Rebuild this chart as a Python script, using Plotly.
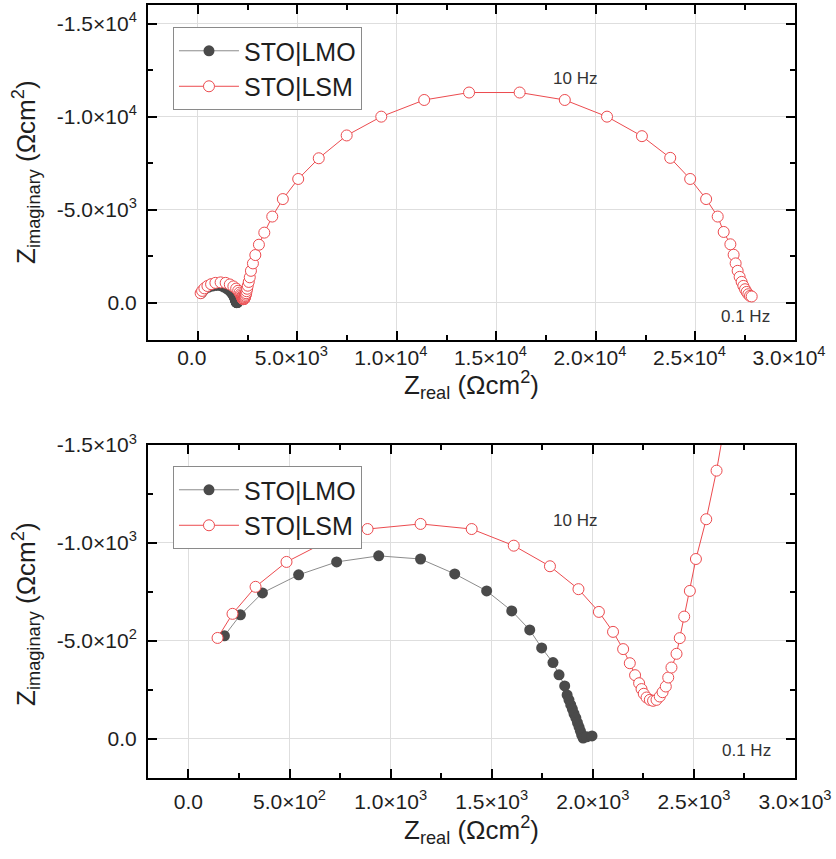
import plotly.graph_objects as go

# Nyquist data (Ohm cm^2): real part and imaginary part (negative values)
lmo_re = [178, 257, 366, 545, 733, 941, 1148, 1317, 1475, 1599, 1688, 1747, 1803, 1833,
          1861, 1873, 1882, 1891, 1899, 1907, 1916, 1924, 1932, 1939, 1945, 1952, 1970, 1996]
lmo_im = [-526, -633, -745, -837, -903, -934, -918, -842, -755, -653, -556, -464, -389, -327,
          -270, -224, -199, -173, -152, -128, -107, -83, -60, -39, -20, -4, -10, -15]

lsm_re = [144, 218, 332, 485, 668, 886, 1148, 1401, 1609, 1788, 1929, 2030, 2100, 2150,
          2183, 2209, 2229, 2241, 2252, 2266, 2282, 2298, 2315, 2331, 2345, 2361, 2373, 2389,
          2414, 2430, 2452, 2480, 2510, 2561, 2612, 2671, 2771, 2891, 3071, 3342, 3742, 4274,
          5045, 6077, 7480, 9218, 11373, 13627, 16168, 18437, 20557, 22311, 23732, 24734,
          25536, 26117, 26418, 26753, 26918, 27018, 27119, 27219, 27319, 27405, 27490, 27570,
          27655, 27740, 27825]
lsm_im = [-515, -638, -776, -903, -1000, -1071, -1097, -1071, -986, -881, -764, -648, -546, -458,
          -386, -325, -284, -254, -230, -211, -199, -194, -199, -216, -238, -267, -313, -364,
          -434, -514, -624, -755, -918, -1121, -1369, -1717, -2117, -2565, -3121, -3769, -4633, -5573,
          -6653, -7765, -8991, -10001, -10897, -11297, -11297, -10897, -10001, -8953, -7787, -6653,
          -5573, -4633, -3807, -3143, -2581, -2117, -1717, -1393, -1123, -907, -729, -583,
          -459, -367, -340]

# Tick positions and labels
top_xticks = [0, 5000, 10000, 15000, 20000, 25000, 30000]
top_xlabels = ["0.0", "5.0×10<sup>3</sup>", "1.0×10<sup>4</sup>", "1.5×10<sup>4</sup>",
               "2.0×10<sup>4</sup>", "2.5×10<sup>4</sup>", "3.0×10<sup>4</sup>"]
top_yticks = [0, -5000, -10000, -15000]
top_ylabels = ["0.0", "-5.0×10<sup>3</sup>", "-1.0×10<sup>4</sup>", "-1.5×10<sup>4</sup>"]

bot_xticks = [0, 500, 1000, 1500, 2000, 2500, 3000]
bot_xlabels = ["0.0", "5.0×10<sup>2</sup>", "1.0×10<sup>3</sup>", "1.5×10<sup>3</sup>",
               "2.0×10<sup>3</sup>", "2.5×10<sup>3</sup>", "3.0×10<sup>3</sup>"]
bot_yticks = [0, -500, -1000, -1500]
bot_ylabels = ["0.0", "-5.0×10<sup>2</sup>", "-1.0×10<sup>3</sup>", "-1.5×10<sup>3</sup>"]

FONT = "Liberation Sans, Arial, sans-serif"
TXT = "#1e1e1e"
LMO_MARK = "#4a4a4a"
LMO_LINE = "#8c8c8c"
LSM_RED = "#ec4b4f"


def mids(vals, lo, hi):
    step = abs(vals[1] - vals[0])
    out = []
    v = min(vals) - step / 2
    while v <= max(vals) + step:
        if lo <= v <= hi:
            out.append(v)
        v += step
    return out


def axis(ticks, labels, rng, domain, anchor, standoff, shift=0):
    lo, hi = min(rng), max(rng)
    return dict(
        range=rng, domain=domain, anchor=anchor, automargin=False,
        tickmode="array", tickvals=ticks, ticktext=labels,
        showline=True, linecolor="black", linewidth=2, mirror="allticks",
        ticks="inside", ticklen=9, tickwidth=2, tickcolor="black",
        showgrid=True, gridcolor="#dedede", gridwidth=1, zeroline=False,
        minor=dict(tickmode="array", tickvals=mids(ticks, lo, hi), ticks="inside",
                   ticklen=5, tickwidth=2, tickcolor="black", showgrid=False),
        tickfont=dict(family=FONT, size=21, color=TXT),
        ticklabelstandoff=standoff, ticklabelshift=shift,
    )


fig = go.Figure()

for xa, ya, leg in [("x", "y", "legend"), ("x2", "y2", "legend2")]:
    fig.add_trace(go.Scatter(
        x=lmo_re, y=lmo_im, xaxis=xa, yaxis=ya, legend=leg, name="STO|LMO",
        mode="lines+markers", line=dict(color=LMO_LINE, width=1),
        marker=dict(symbol="circle", size=11, color=LMO_MARK, line=dict(width=0)),
    ))
    fig.add_trace(go.Scatter(
        x=lsm_re, y=lsm_im, xaxis=xa, yaxis=ya, legend=leg, name="STO|LSM",
        mode="lines+markers", line=dict(color=LSM_RED, width=1),
        marker=dict(symbol="circle", size=11, color="white", line=dict(color=LSM_RED, width=1)),
    ))

top_dom = [0.5666, 1.0]
bot_dom = [0.0, 0.4308]

legend_style = dict(
    bgcolor="white", bordercolor="#8a8a8a", borderwidth=1,
    font=dict(family=FONT, size=25, color=TXT),
    xanchor="left", yanchor="top", tracegroupgap=0, itemwidth=60,
)

fig.update_layout(
    width=836, height=859,
    margin=dict(l=148, r=41, t=5, b=81, autoexpand=False),
    paper_bgcolor="white", plot_bgcolor="white",
    showlegend=True,
    xaxis=axis(top_xticks, top_xlabels, [-2500, 30000], [0, 1], "y", -2, -6),
    yaxis=axis(top_yticks, top_ylabels, [2000, -16000], top_dom, "x", 5),
    xaxis2=axis(bot_xticks, bot_xlabels, [-200, 3000], [0, 1], "y2", 4),
    yaxis2=axis(bot_yticks, bot_ylabels, [200, -1500], bot_dom, "x2", 5),
    legend=dict(x=0.0386, y=0.9715, **legend_style),
    legend2=dict(x=0.0386, y=0.4036, **legend_style),
)

title_font = dict(family=FONT, size=26, color=TXT)
x_title = "Z<sub>real</sub> (Ωcm<sup>2</sup>)"
y_title = "Z<sub>imaginary</sub> (Ωcm<sup>2</sup>)"
annos = [
    dict(text=x_title, xref="paper", yref="paper", x=0.5, y=0.5084, showarrow=False,
         xanchor="center", yanchor="middle", font=title_font),
    dict(text=x_title, xref="paper", yref="paper", x=0.5, y=-0.0673, showarrow=False,
         xanchor="center", yanchor="middle", font=title_font),
    dict(text=y_title, xref="paper", yref="paper", x=-0.1886, y=0.784, showarrow=False,
         xanchor="center", yanchor="middle", textangle=-90, font=title_font),
    dict(text=y_title, xref="paper", yref="paper", x=-0.1886, y=0.2122, showarrow=False,
         xanchor="center", yanchor="middle", textangle=-90, font=title_font),
]
hz_font = dict(family=FONT, size=17, color="#333333")
for xr, yr, x, y, t in [("x", "y", 18938, -12069, "10 Hz"), ("x", "y", 27505, 729, "0.1 Hz"),
                        ("x2", "y2", 1913, -1117, "10 Hz"), ("x2", "y2", 2762, 61, "0.1 Hz")]:
    annos.append(dict(text=t, xref=xr, yref=yr, x=x, y=y, showarrow=False,
                      xanchor="center", yanchor="middle", font=hz_font))
fig.update_layout(annotations=annos)

fig.write_html("out.html")
